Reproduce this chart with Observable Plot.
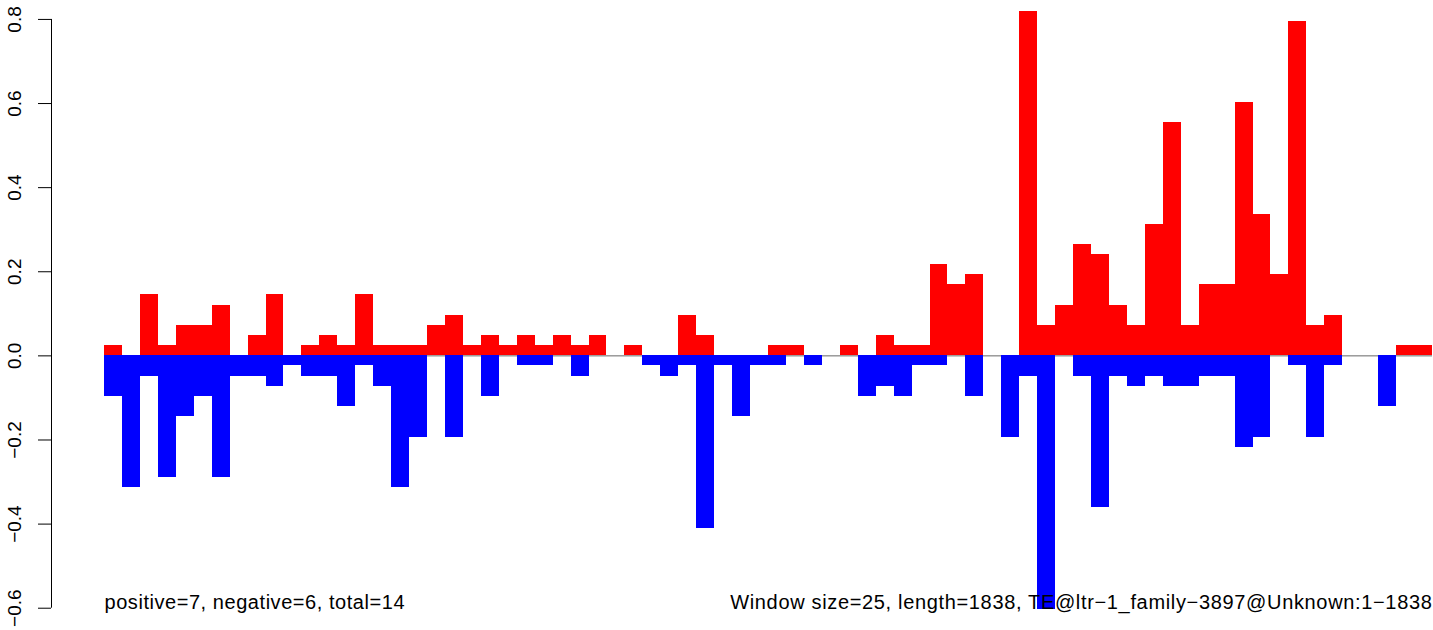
<!DOCTYPE html>
<html>
<head>
<meta charset="utf-8">
<script src="https://cdn.jsdelivr.net/npm/d3@7"></script>
<script src="https://cdn.jsdelivr.net/npm/@observablehq/plot@0.6"></script>
<style>
  html, body { margin: 0; padding: 0; background: #fff; }
  #chart { width: 1433px; height: 630px; overflow: hidden; }
</style>
</head>
<body>
<div id="chart"></div>
<script>
// Window index (74 windows of 25 bp along a 1838 bp element)
const windowIndex = [
  0,1,2,3,4,5,6,7,8,9,10,11,12,13,14,15,16,17,18,19,20,21,22,23,24,25,26,27,28,29,30,31,32,33,34,35,36,
  37,38,39,40,41,42,43,44,45,46,47,48,49,50,51,52,53,54,55,56,57,58,59,60,61,62,63,64,65,66,67,68,69,70,71,72,73
];

// Positive-strand values per window (red)
const positiveValues = [
  0.024, 0, 0.145, 0.024, 0.072, 0.072, 0.120, 0, 0.048, 0.145,
  0, 0.024, 0.048, 0.024, 0.145, 0.024, 0.024, 0.024, 0.072, 0.096,
  0.024, 0.048, 0.024, 0.048, 0.024, 0.048, 0.024, 0.048, 0, 0.024,
  0, 0, 0.096, 0.048, 0, 0, 0, 0.024, 0.024, 0,
  0, 0.024, 0, 0.048, 0.024, 0.024, 0.217, 0.169, 0.193, 0,
  0, 0.819, 0.072, 0.120, 0.265, 0.241, 0.120, 0.072, 0.313, 0.554,
  0.072, 0.169, 0.169, 0.602, 0.337, 0.193, 0.795, 0.072, 0.096, 0,
  0, 0, 0.024, 0.024
];

// Negative-strand values per window (blue)
const negativeValues = [
  -0.096, -0.313, -0.048, -0.289, -0.145, -0.096, -0.289, -0.048, -0.048, -0.072,
  -0.024, -0.048, -0.048, -0.120, -0.024, -0.072, -0.313, -0.193, 0, -0.193,
  0, -0.096, 0, -0.024, -0.024, 0, -0.048, 0, 0, 0,
  -0.024, -0.048, -0.024, -0.410, -0.024, -0.145, -0.024, -0.024, 0, -0.024,
  0, 0, -0.096, -0.072, -0.096, -0.024, -0.024, 0, -0.096, 0,
  -0.193, -0.048, -0.602, 0, -0.048, -0.361, -0.048, -0.072, -0.048, -0.072,
  -0.072, -0.048, -0.048, -0.217, -0.193, 0, -0.024, -0.193, -0.024, 0,
  0, -0.120, 0, 0
];

const yTicks = [-0.6, -0.4, -0.2, 0.0, 0.2, 0.4, 0.6, 0.8];
const leftCaption = "positive=7, negative=6, total=14";
const rightCaption = "Window size=25, length=1838, TE@ltr\u22121_family\u22123897@Unknown:1\u22121838";

const rows = windowIndex.map((w, i) => ({w, pos: positiveValues[i], neg: negativeValues[i]}));
const posRows = rows.filter(d => d.pos !== 0);
const negRows = rows.filter(d => d.neg !== 0);

const W = 1433, H = 630;
const font = "'Liberation Sans', Arial, Helvetica, sans-serif";

const svg = Plot.plot({
  width: W,
  height: H,
  marginLeft: 104,
  marginRight: 1,
  marginTop: 0,
  marginBottom: 0,
  style: {fontFamily: font, background: "#fff", color: "#000"},
  x: {type: "linear", domain: [0, windowIndex.length], axis: null},
  y: {type: "linear", domain: [-0.653, 0.845]},
  marks: [
    Plot.ruleY([0], {stroke: "#666666", strokeWidth: 1}),
    Plot.rectY(posRows, {x1: "w", x2: d => d.w + 1, y1: 0, y2: "pos", fill: "#ff0000", shapeRendering: "crispEdges"}),
    Plot.rectY(negRows, {x1: "w", x2: d => d.w + 1, y1: 0, y2: "neg", fill: "#0000ff", shapeRendering: "crispEdges"}),
    Plot.ruleX([0], {y1: yTicks[0], y2: yTicks[yTicks.length - 1], dx: -53, stroke: "#000"}),
    Plot.axisY({
      ticks: yTicks,
      tickFormat: d3.format(".1f"),
      tickSize: 13,
      tickPadding: 17.5,
      tickRotate: -90,
      dx: -53,
      fontSize: 19,
      stroke: "#000"
    }),
    Plot.text([leftCaption], {frameAnchor: "bottom-left", textAnchor: "start", lineAnchor: "bottom", dy: -22, fontSize: 20, fill: "#000"}),
    Plot.text([rightCaption], {frameAnchor: "bottom-right", textAnchor: "end", lineAnchor: "bottom", dy: -22, fontSize: 20, fill: "#000"})
  ]
});

d3.select(svg).selectAll("text")
  .filter(function() { return this.textContent === leftCaption; })
  .attr("letter-spacing", "0.55");
d3.select(svg).selectAll("text")
  .filter(function() { return this.textContent === rightCaption; })
  .attr("letter-spacing", "0.66");

document.getElementById("chart").appendChild(svg);
</script>
</body>
</html>
